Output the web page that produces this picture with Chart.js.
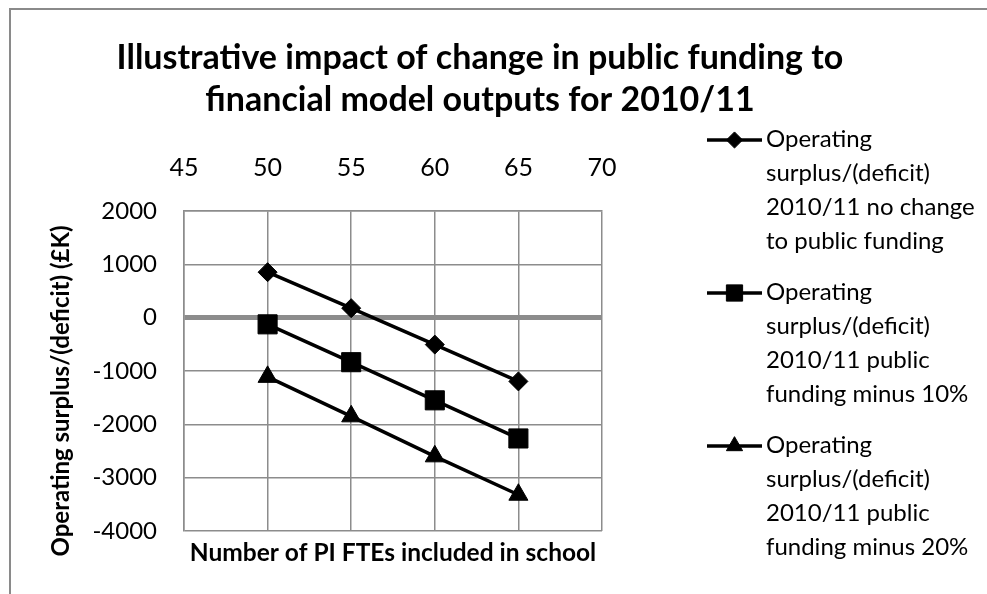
<!DOCTYPE html>
<html>
<head>
<meta charset="utf-8">
<script src="https://cdn.jsdelivr.net/npm/chart.js@4.4.0/dist/chart.umd.min.js"></script>
<style>
  html, body { margin: 0; padding: 0; background: #fff; }
  #wrap { width: 987px; height: 594px; position: relative; }
</style>
</head>
<body>
<div id="wrap"><canvas id="chart"></canvas></div>
<script>
// values
const fteCounts = [50, 55, 60, 65];
const noChange = [853, 178, -505, -1195];
const minus10 = [-125, -835, -1550, -2265];
const minus20 = [-1110, -1850, -2600, -3320];

const xMin = 45, xMax = 70, xStep = 5;
const yMin = -4000, yMax = 2000, yStep = 1000;

const titleLines = [
  "Illustrative impact of change in public funding to",
  "financial model outputs for 2010/11"
];
const yTitle = "Operating surplus/(deficit) (£K)";
const xTitle = "Number of PI FTEs included in school";

const seriesNames = [
  "Operating surplus/(deficit) 2010/11 no change to public funding",
  "Operating surplus/(deficit) 2010/11 public funding minus 10%",
  "Operating surplus/(deficit) 2010/11 public funding minus 20%"
];
const legendLines = [
  ["Operating", "surplus/(deficit)", "2010/11 no change", "to public funding"],
  ["Operating", "surplus/(deficit)", "2010/11 public", "funding minus 10%"],
  ["Operating", "surplus/(deficit)", "2010/11 public", "funding minus 20%"]
];
const markers = ["rectRot", "rect", "triangle"];
const markerSizes = [9.5, 13.5, 11];

const GRID = "#8c8c8c";
Chart.defaults.font.family = "Lato";
Chart.defaults.color = "#000";

function toPoints(values) {
  return values.map((v, i) => ({ x: fteCounts[i], y: v }));
}

const seriesValues = [noChange, minus10, minus20];

const datasets = seriesValues.map((vals, i) => ({
  label: seriesNames[i],
  data: toPoints(vals),
  borderColor: "#000",
  backgroundColor: "#000",
  borderWidth: 3.5,
  pointStyle: markers[i],
  pointRadius: markerSizes[i],
  pointHoverRadius: markerSizes[i],
  pointBackgroundColor: "#000",
  pointBorderColor: "#000",
  pointBorderWidth: 1,
  tension: 0
}));

// frame, title, y title and the legend on the right
const decorations = {
  id: "decorations",
  beforeDraw(chart) {
    const ctx = chart.ctx;
    ctx.save();
    ctx.strokeStyle = "#8a8a8a";
    ctx.lineWidth = 2;
    ctx.strokeRect(10, 9, 1200, 1200);
    ctx.restore();
  },
  afterDraw(chart) {
    const ctx = chart.ctx;
    ctx.save();
    ctx.fillStyle = "#000";
    ctx.textAlign = "center";
    ctx.textBaseline = "middle";
    ctx.font = "bold 34px Lato";
    titleLines.forEach((t, i) => ctx.fillText(t, 480, 58 + i * 42));

    ctx.save();
    ctx.font = "bold 24px Lato";
    ctx.translate(61, 391);
    ctx.rotate(-Math.PI / 2);
    ctx.fillText(yTitle, 0, 0);
    ctx.restore();

    chart.data.datasets.forEach((ds, i) => {
      const y0 = 140 + i * 153;
      ctx.strokeStyle = "#000";
      ctx.lineWidth = 3.5;
      ctx.beginPath();
      ctx.moveTo(707, y0);
      ctx.lineTo(762, y0);
      ctx.stroke();
      ctx.fillStyle = "#000";
      ctx.lineWidth = 1;
      Chart.helpers.drawPoint(ctx, {
        pointStyle: ds.pointStyle,
        radius: ds.pointRadius * 0.85,
        rotation: 0,
        borderWidth: 1
      }, 734.5, y0);

      ctx.font = "24px Lato";
      ctx.textAlign = "left";
      ctx.textBaseline = "middle";
      legendLines[i].forEach((line, j) => ctx.fillText(line, 766, y0 - 1 + j * 34));
    });
    ctx.restore();
  }
};

new Chart(document.getElementById("chart"), {
  type: "line",
  data: { datasets },
  plugins: [decorations],
  options: {
    responsive: true,
    maintainAspectRatio: false,
    animation: false,
    layout: { padding: { left: 10, right: 385, top: 0, bottom: 0 } },
    plugins: {
      legend: { display: false },
      title: { display: false },
      tooltip: { enabled: false }
    },
    scales: {
      x: {
        type: "linear",
        position: "top",
        min: xMin,
        max: xMax,
        ticks: { stepSize: xStep, font: { size: 25 }, padding: 28, color: "#000" },
        grid: { color: GRID, lineWidth: 1.5, drawTicks: false },
        border: { color: GRID, width: 1.5 },
        afterFit: s => { s.height = 211; }
      },
      xTitle: {
        type: "linear",
        position: "bottom",
        ticks: { display: false },
        grid: { display: false },
        border: { display: false },
        title: {
          display: true,
          text: xTitle,
          font: { size: 24.5, weight: "bold" },
          color: "#000",
          padding: { top: 0, bottom: 26 }
        },
        afterFit: s => { s.height = 63; }
      },
      y: {
        min: yMin,
        max: yMax,
        ticks: {
          stepSize: yStep,
          font: { size: 24 },
          padding: 27,
          color: "#000",
          callback: v => String(v)
        },
        grid: {
          color: GRID,
          lineWidth: c => (c.tick && c.tick.value === 0 ? 5 : 1.5),
          drawTicks: false
        },
        border: { color: GRID, width: 1.5 },
        afterFit: s => { s.width = 174; }
      }
    }
  }
});
</script>
</body>
</html>
